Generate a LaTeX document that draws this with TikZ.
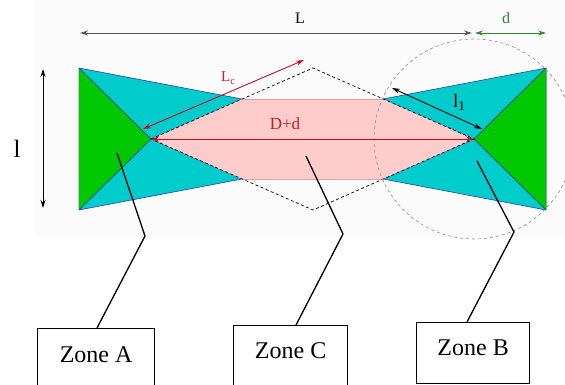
\documentclass[tikz,border=0pt]{standalone}
\usepackage{fontspec}
\setmainfont{Liberation Serif}
\usetikzlibrary{arrows.meta}
\definecolor{cy}{RGB}{0,204,204}
\definecolor{gr}{RGB}{0,200,0}
\definecolor{pk}{RGB}{255,204,204}
\definecolor{pkline}{RGB}{230,160,160}
\definecolor{rd}{RGB}{200,10,30}
\definecolor{rdtxt}{RGB}{200,30,30}
\definecolor{dg}{RGB}{40,140,40}
\definecolor{bl}{RGB}{40,40,170}
\definecolor{ga}{RGB}{85,85,85}
\definecolor{bgc}{RGB}{251,251,252}
\tikzset{
  tip/.style={{Stealth[length=8pt,width=5pt]}-{Stealth[length=8pt,width=5pt]}},
  zonebox/.style={draw=black, line width=1.3pt, inner sep=0pt, align=center,
    font=\fontsize{24}{28}\selectfont},
  zoneline/.style={draw=black, line width=1.3pt},
  cyanpart/.style={fill=cy, draw=bl, line width=0.5pt, line join=round},
  greenpart/.style={fill=gr, draw=gr!80!black, line width=0.3pt, line join=round},
  dimlab/.style={inner sep=0pt, font=\fontsize{16}{18}\selectfont},
}
\begin{document}
\begin{tikzpicture}[x=1pt,y=-1pt]
\useasboundingbox (0,0) rectangle (565,385);
\fill[bgc] (35,0) rectangle (565,238);

% key points
\coordinate (LT) at (79,68);
\coordinate (LB) at (79,210);
\coordinate (LA) at (151,139);
\coordinate (J1) at (242,99);
\coordinate (J2) at (242,179);
\coordinate (J3) at (383,99);
\coordinate (J4) at (383,179);
\coordinate (RA) at (474,139);
\coordinate (RT) at (546,68);
\coordinate (RB) at (546,210);
\coordinate (DT) at (313,68);
\coordinate (DB) at (313,210);

% cyan parts
\path[cyanpart] (LT) -- (J1) -- (LA) -- (J2) -- (LB) -- cycle;
\path[cyanpart] (RT) -- (J3) -- (RA) -- (J4) -- (RB) -- cycle;
% green triangles
\path[greenpart] (LT) -- (LA) -- (LB) -- cycle;
\path[greenpart] (RT) -- (RA) -- (RB) -- cycle;
\draw[bl, line width=0.5pt] (LT) -- (LA) -- (LB);
\draw[bl, line width=0.5pt] (RT) -- (RA) -- (RB);
% pink zone
\fill[pk] (LA) -- (J1) -- (J3) -- (RA) -- (J4) -- (J2) -- cycle;
\draw[pkline, line width=0.5pt] (J1) -- (J3) (J2) -- (J4);
% dashed diamond
\draw[black, line width=0.7pt, dash pattern=on 3pt off 2.5pt] (LA) -- (DT) -- (RA) -- (DB) -- cycle;
% dashed circle
\draw[black!45, line width=0.6pt, dash pattern=on 3pt off 3pt] (RA) circle[radius=100];

% dimension arrows
\coordinate (L1) at (80,33);
\coordinate (L2) at (472,33);
\coordinate (d1) at (475,33);
\coordinate (d2) at (546,33);
\coordinate (h1) at (43,69);
\coordinate (h2) at (43,208);
\coordinate (c1) at (143,129);
\coordinate (c2) at (304,60);
\coordinate (e1) at (392,88);
\coordinate (e2) at (482,129);
\draw[tip, ga, line width=0.9pt] (L1) -- (L2);
\draw[tip, dg, line width=0.9pt] (d1) -- (d2);
\draw[tip, black, line width=0.9pt] (h1) -- (h2);
\draw[tip, rd, line width=0.9pt] (c1) -- (c2);
\draw[tip, rd, line width=0.9pt] (LA) -- (RA);
\draw[tip, black, line width=0.9pt] (e1) -- (e2);

% labels
\node[dimlab, text=black] (labL) at (300,18) {L};
\node[dimlab, text=dg] (labd) at (506,18) {d};
\node[inner sep=0pt, font=\fontsize{25}{28}\selectfont] (labl) at (17,149) {l};
\node[inner sep=0pt, text=rdtxt, font=\fontsize{15}{17}\selectfont, anchor=base west] (labLc) at (221,82) {L\textsubscript{c}};
\node[inner sep=0pt, text=rdtxt, font=\fontsize{17}{19}\selectfont, anchor=base] (labDd) at (285,130) {D+d};
\node[inner sep=0pt, text=black, font=\fontsize{19}{21}\selectfont, anchor=base west] (labl1) at (453,108) {l\textsubscript{1}};

% zone boxes
\node[zonebox, text height=34pt, text depth=26pt, minimum width=117pt, anchor=north west] (zA) at (37,328) {Zone A};
\node[zonebox, text height=33pt, text depth=31pt, minimum width=114pt, anchor=north west] (zC) at (233,325) {Zone C};
\node[zonebox, text height=33pt, text depth=28pt, minimum width=113pt, anchor=north west] (zB) at (416,322) {Zone B};

% connectors
\coordinate (aS) at (117,153);
\coordinate (aK) at (145,236);
\coordinate (aE) at (97,328);
\coordinate (cS) at (306,156);
\coordinate (cK) at (343,234);
\coordinate (cE) at (296,325);
\coordinate (bS) at (477,161);
\coordinate (bK) at (514,232);
\coordinate (bE) at (467,322);
\draw[zoneline] (aS) -- (aK) -- (aE);
\draw[zoneline] (cS) -- (cK) -- (cE);
\draw[zoneline] (bS) -- (bK) -- (bE);
\end{tikzpicture}
\end{document}
